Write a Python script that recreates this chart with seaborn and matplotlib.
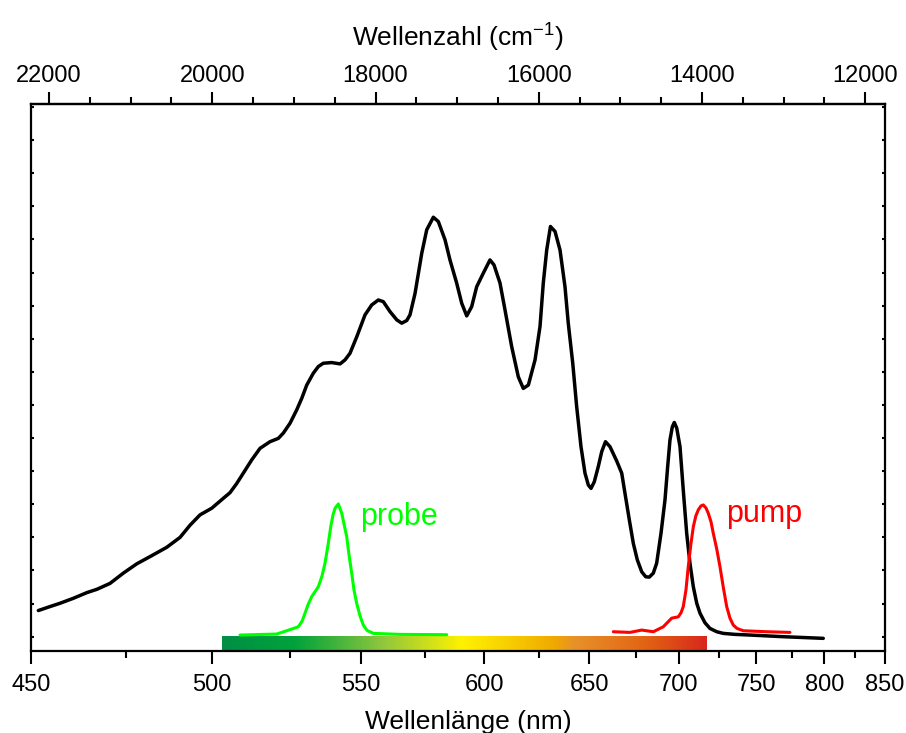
import numpy as np
import matplotlib
matplotlib.use("Agg")
import matplotlib.pyplot as plt
from matplotlib.ticker import FixedLocator, FixedFormatter, MultipleLocator, NullFormatter
from matplotlib.colors import LinearSegmentedColormap, Normalize
import seaborn as sns

# ---------------- data (x in wavenumber cm^-1, y in arbitrary absorbance units) ----------------
black_wn = [22131, 21988, 21865, 21702, 21538, 21415, 21253, 21090, 20926, 20762,
            20558, 20395, 20272, 20150, 20007, 19865, 19783, 19700, 19620, 19517,
            19415, 19293, 19191, 19130, 19047, 18966, 18904, 18843, 18762, 18701,
            18640, 18537, 18435, 18374, 18313, 18230, 18129, 18047, 17966, 17905,
            17823, 17740, 17679, 17618, 17578, 17516, 17434, 17373, 17292, 17231,
            17149, 17088, 17006, 16944, 16883, 16822, 16761, 16680, 16598, 16549,
            16475, 16414, 16332, 16251, 16190, 16128, 16046, 15985, 15945, 15903,
            15857, 15801, 15740, 15679, 15639, 15584, 15536, 15483, 15434, 15393,
            15360, 15320, 15271, 15229, 15183, 15128, 15046, 14984, 14944, 14891,
            14842, 14793, 14739, 14690, 14646, 14597, 14556, 14503, 14454, 14421,
            14393, 14364, 14340, 14310, 14270, 14230, 14188, 14148, 14107, 14065,
            14025, 13964, 13903, 13820, 13740, 13596, 13413, 13005, 12515]
black_abs = [0.79, 0.91, 1.01, 1.16, 1.33, 1.43, 1.61, 1.92, 2.20, 2.42,
             2.70, 3.00, 3.37, 3.68, 3.88, 4.18, 4.35, 4.63, 4.94, 5.34,
             5.69, 5.89, 5.99, 6.15, 6.45, 6.85, 7.20, 7.60, 7.96, 8.16,
             8.26, 8.28, 8.24, 8.36, 8.56, 9.06, 9.72, 10.02, 10.17, 10.12,
             9.82, 9.57, 9.47, 9.55, 9.72, 10.37, 11.58, 12.29, 12.67, 12.54,
             11.99, 11.38, 10.68, 10.07, 9.69, 9.97, 10.57, 10.98, 11.38, 11.23,
             10.68, 9.87, 8.76, 7.85, 7.50, 7.60, 8.36, 9.37, 10.68, 11.68,
             12.39, 12.24, 11.68, 10.57, 9.47, 8.26, 6.95, 5.74, 4.94, 4.58,
             4.48, 4.68, 5.14, 5.59, 5.89, 5.74, 5.31, 4.94, 4.33, 3.53,
             2.82, 2.32, 1.96, 1.81, 1.80, 1.92, 2.22, 3.12, 4.13, 5.14,
             5.94, 6.34, 6.47, 6.30, 5.74, 4.43, 3.12, 2.22, 1.51, 1.01,
             0.71, 0.42, 0.25, 0.15, 0.10, 0.07, 0.05, 0.00, -0.05]

probe_wn = [19660, 19211, 19088, 18946, 18900, 18864, 18823, 18782, 18701, 18656,
            18619, 18582, 18549, 18521, 18496, 18456, 18414, 18386, 18353, 18325,
            18292, 18264, 18231, 18190, 18150, 18104, 18027, 17700, 17128]
probe_abs = [0.05, 0.08, 0.18, 0.30, 0.47, 0.71, 0.99, 1.21, 1.51, 1.83,
             2.22, 2.77, 3.32, 3.68, 3.88, 4.01, 3.73, 3.40, 3.02, 2.47,
             1.92, 1.41, 1.01, 0.63, 0.35, 0.19, 0.10, 0.07, 0.06]

pump_wn = [15087, 14883, 14739, 14597, 14475, 14372, 14291, 14258, 14230, 14197,
           14169, 14138, 14107, 14076, 14046, 14013, 13985, 13952, 13924, 13890,
           13862, 13820, 13780, 13740, 13698, 13658, 13617, 13572, 13495, 13208, 12923]
pump_abs = [0.15, 0.13, 0.20, 0.15, 0.30, 0.56, 0.60, 0.72, 0.91, 1.41,
            2.11, 2.77, 3.32, 3.65, 3.83, 3.95, 3.98, 3.89, 3.73, 3.47,
            3.12, 2.65, 2.11, 1.50, 0.91, 0.56, 0.35, 0.25, 0.18, 0.15, 0.13]

bottom_ticks_nm = [450, 500, 550, 600, 650, 700, 750, 800, 850]
bottom_minor_nm = [475, 525, 575, 625, 675, 725, 775, 825]
top_ticks_wn = [22000, 20000, 18000, 16000, 14000, 12000]

bar_stops_nm = [503, 526, 557, 590, 633, 642, 680, 717]
bar_colors = ["#008f45", "#00a23c", "#8cc63e", "#fff200", "#f0a800", "#e8922a", "#e26414", "#d8281c"]

# ---------------- figure ----------------
sns.set_style("ticks")
plt.rcParams["font.family"] = ["Liberation Sans", "DejaVu Sans"]
plt.rcParams["mathtext.fontset"] = "custom"
plt.rcParams["mathtext.rm"] = "Liberation Sans"
for k in ["text.color", "axes.labelcolor", "xtick.color", "ytick.color", "axes.edgecolor"]:
    plt.rcParams[k] = "black"

fig = plt.figure(figsize=(9.06, 7.33), dpi=100)
ax = fig.add_axes([30.9 / 906, 1 - 650.7 / 733, (884.5 - 30.9) / 906, (650.7 - 104) / 733])

xlim = (1e7 / 450, 1e7 / 850)
ylim = (-0.423, 16.09)

# gradient colour bar
cmap = LinearSegmentedColormap.from_list(
    "bar", list(zip([(s - bar_stops_nm[0]) / (bar_stops_nm[-1] - bar_stops_nm[0]) for s in bar_stops_nm], bar_colors)))
wn_l, wn_r = 1e7 / bar_stops_nm[0], 1e7 / bar_stops_nm[-1]
cols_nm = 1e7 / np.linspace(wn_l, wn_r, 500)
norm = Normalize(bar_stops_nm[0], bar_stops_nm[-1])
img = cmap(norm(cols_nm))[np.newaxis, :, :]
ax.imshow(img, extent=(wn_l, wn_r, ylim[0], 0.02), aspect="auto", interpolation="bilinear", zorder=1)

sns.lineplot(x=black_wn, y=black_abs, ax=ax, color="black", lw=2.5, sort=False, estimator=None, zorder=3)
sns.lineplot(x=probe_wn, y=probe_abs, ax=ax, color="#00ff00", lw=2.2, sort=False, estimator=None, zorder=3)
sns.lineplot(x=pump_wn, y=pump_abs, ax=ax, color="#ff0000", lw=2.2, sort=False, estimator=None, zorder=4)

ax.set_xlim(*xlim)
ax.set_ylim(*ylim)

# bottom axis: wavelength labels at 1e7/nm positions
ax.xaxis.set_major_locator(FixedLocator([1e7 / v for v in bottom_ticks_nm]))
ax.xaxis.set_major_formatter(FixedFormatter([str(v) for v in bottom_ticks_nm]))
ax.xaxis.set_minor_locator(FixedLocator([1e7 / v for v in bottom_minor_nm]))
ax.xaxis.set_minor_formatter(NullFormatter())
ax.tick_params(axis="x", which="major", direction="out", length=9, width=1.5, labelsize=17, pad=8)
ax.tick_params(axis="x", which="minor", direction="out", length=5, width=1.5)

# y: inward ticks without labels on both sides
ax.yaxis.set_major_locator(MultipleLocator(1))
ax.tick_params(axis="y", which="major", direction="in", length=2.5, width=1.5,
               left=True, right=True, labelleft=False, labelright=False)

for s in ax.spines.values():
    s.set_linewidth(1.6)
    s.set_visible(True)

ax.set_xlabel("Wellenlänge (nm)", fontsize=19)
ax.xaxis.set_label_coords(0.512, -0.108)

# top axis: wavenumber
sec = ax.secondary_xaxis("top")
sec.xaxis.set_major_locator(FixedLocator(top_ticks_wn))
sec.xaxis.set_major_formatter(FixedFormatter([str(v) for v in top_ticks_wn]))
sec.xaxis.set_minor_locator(MultipleLocator(500))
sec.tick_params(axis="x", which="major", direction="out", length=9, width=1.5, labelsize=17, pad=3)
sec.tick_params(axis="x", which="minor", direction="out", length=5, width=1.5)
sec.spines["top"].set_linewidth(1.6)
sec.set_xlabel("Wellenzahl (cm$^{\\mathregular{-1}}$)", fontsize=19, labelpad=14)

ax.text(18190, 3.37, "probe", color="#00ff00", fontsize=22, ha="left", va="baseline")
ax.text(13707, 3.45, "pump", color="#ff0000", fontsize=22, ha="left", va="baseline")

fig.savefig("out.png", dpi=100, facecolor="white")
